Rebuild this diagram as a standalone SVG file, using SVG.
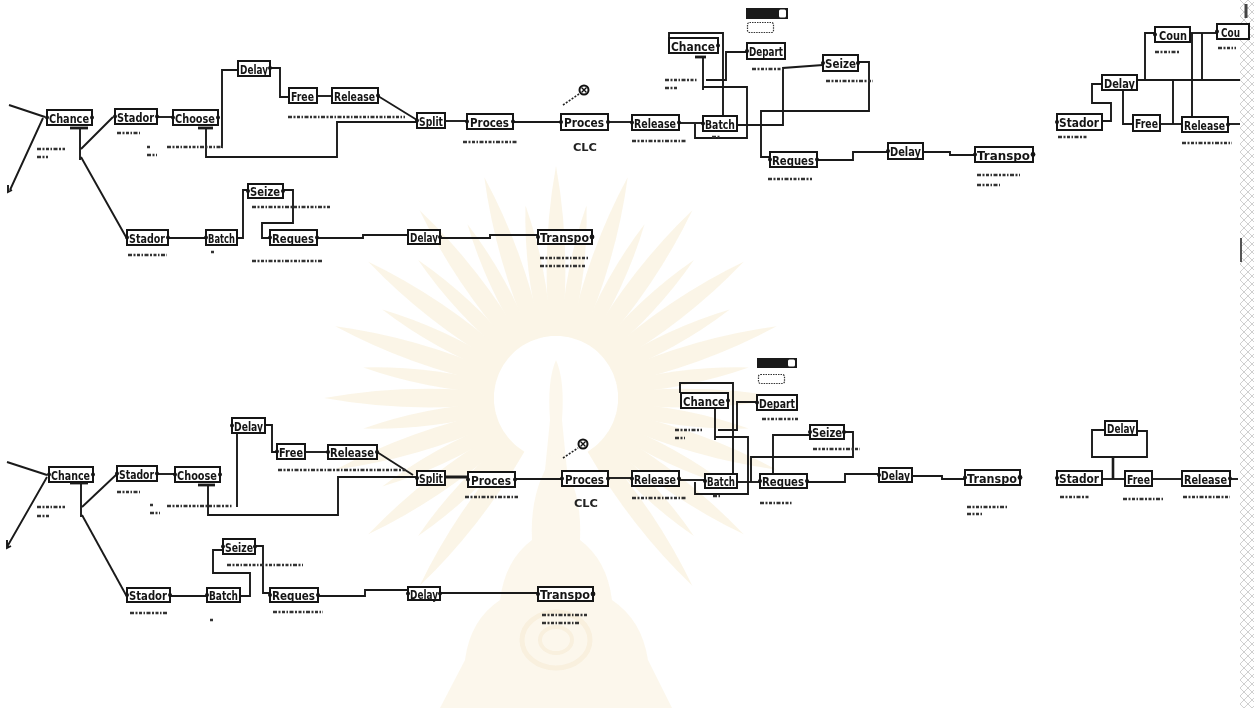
<svg xmlns="http://www.w3.org/2000/svg" xmlns:xlink="http://www.w3.org/1999/xlink" width="1254" height="708" viewBox="0 0 1254 708">
  <style>
    .blk { fill: #fff; stroke: #151515; stroke-width: 2; }
    .lb { font-family: "DejaVu Sans", "Liberation Sans", sans-serif; font-weight: bold; font-size: 13px; fill: #151515; }
    .pt { fill: #151515; }
    .wire { fill: none; stroke: #1a1a1a; stroke-width: 1.9; stroke-linejoin: miter; }
    .bar { stroke: #1a1a1a; stroke-width: 2.8; }
    .note { stroke: #333; stroke-width: 2.6; stroke-dasharray: 4 1.5 2 1.5 3 1.5 1.5 1.5; fill: none; }
    .clc { font-family: "DejaVu Sans", sans-serif; font-weight: bold; font-size: 10px; fill: #222; }
    .ray { fill: #f0dcaa; }
  </style>
  <defs>
    <path id="ray" d="M -6,-62 Q -15,-150 0,-232 Q 15,-150 6,-62 Z"/>
    <path id="rayS" d="M -5,-62 Q -12,-130 0,-195 Q 12,-130 5,-62 Z"/>
    <pattern id="edge" width="8" height="8" patternUnits="userSpaceOnUse">
      <path d="M0,0 L8,8 M8,0 L0,8" stroke="#c4c4c4" stroke-width="0.8"/>
    </pattern>
  </defs>

  <rect width="1254" height="708" fill="#fff"/>

  <!-- pale emblem in the background -->
  <g id="emblem" opacity="0.28">
    <g transform="translate(556,398)" class="ray">
      <use xlink:href="#ray" transform="rotate(0)"/><use xlink:href="#rayS" transform="rotate(9)"/>
      <use xlink:href="#ray" transform="rotate(18)"/><use xlink:href="#rayS" transform="rotate(27)"/>
      <use xlink:href="#ray" transform="rotate(36)"/><use xlink:href="#rayS" transform="rotate(45)"/>
      <use xlink:href="#ray" transform="rotate(54)"/><use xlink:href="#rayS" transform="rotate(63)"/>
      <use xlink:href="#ray" transform="rotate(72)"/><use xlink:href="#rayS" transform="rotate(81)"/>
      <use xlink:href="#ray" transform="rotate(90)"/><use xlink:href="#rayS" transform="rotate(99)"/>
      <use xlink:href="#ray" transform="rotate(108)"/><use xlink:href="#rayS" transform="rotate(117)"/>
      <use xlink:href="#ray" transform="rotate(126)"/><use xlink:href="#rayS" transform="rotate(135)"/>
      <use xlink:href="#ray" transform="rotate(144)"/>
      <use xlink:href="#ray" transform="rotate(216)"/>
      <use xlink:href="#rayS" transform="rotate(225)"/><use xlink:href="#ray" transform="rotate(234)"/>
      <use xlink:href="#rayS" transform="rotate(243)"/><use xlink:href="#ray" transform="rotate(252)"/>
      <use xlink:href="#rayS" transform="rotate(261)"/><use xlink:href="#ray" transform="rotate(270)"/>
      <use xlink:href="#rayS" transform="rotate(279)"/><use xlink:href="#ray" transform="rotate(288)"/>
      <use xlink:href="#rayS" transform="rotate(297)"/><use xlink:href="#ray" transform="rotate(306)"/>
      <use xlink:href="#rayS" transform="rotate(315)"/><use xlink:href="#ray" transform="rotate(324)"/>
      <use xlink:href="#rayS" transform="rotate(333)"/><use xlink:href="#ray" transform="rotate(342)"/>
      <use xlink:href="#rayS" transform="rotate(351)"/>
    </g>
    <circle cx="556" cy="398" r="58" fill="#fff"/>
    <path d="M556,360 Q547,380 550,420 L545,470 Q530,500 532,540 Q505,560 500,600 Q470,620 465,660 L440,708 L672,708 L648,660 Q642,620 612,600 Q607,560 580,540 Q582,500 567,470 L562,420 Q565,380 556,360 Z" fill="#f1dcaa" opacity="0.8"/>
    <ellipse cx="556" cy="640" rx="34" ry="28" fill="none" stroke="#e9c98a" stroke-width="5"/>
    <ellipse cx="556" cy="640" rx="16" ry="13" fill="none" stroke="#e9c98a" stroke-width="4"/>
  </g>

  <!-- scanner edge -->
  <rect x="1240" y="0" width="14" height="708" fill="url(#edge)"/>
  <line x1="1246" y1="4" x2="1246" y2="18" stroke="#444" stroke-width="3"/>
  <line x1="1241" y1="238" x2="1241" y2="262" stroke="#555" stroke-width="2"/>

  <!-- ===================== connectors ===================== -->
  <g id="connectors">
    <!-- upper model -->
    <path class="wire" d="M9,105 L45,117"/>
    <path class="wire" d="M10,190 L43,118 M8,185 L8,192 L12,190"/>
    <line class="bar" x1="70" y1="128" x2="88" y2="128"/>
    <path class="wire" d="M80,128 L80,160"/>
    <path class="wire" d="M81,149 L113,117"/>
    <path class="wire" d="M81,157 L126,237"/>
    <path class="wire" d="M157,117 L173,117"/>
    <line class="bar" x1="198" y1="128" x2="213" y2="128"/>
    <path class="wire" d="M206,128 L206,158 M206,157 L337,157 L337,122 L417,122"/>
    <path class="wire" d="M222,148 L222,70 L238,70"/>
    <path class="wire" d="M270,68 L280,68 L280,97 L289,97"/>
    <path class="wire" d="M317,96 L332,96"/>
    <path class="wire" d="M378,96 L417,120"/>
    <path class="wire" d="M445,121 L467,121"/>
    <path class="wire" d="M513,122 L561,122"/>
    <path class="wire" d="M608,122 L632,122"/>
    <path class="wire" d="M679,123 L703,123"/>
    <path class="wire" d="M695,124 L695,138 L747,138 L747,87 L703,87"/>
    <line class="bar" x1="695" y1="57" x2="706" y2="57"/>
    <path class="wire" d="M703,57 L703,90"/>
    <path class="wire" d="M669,45 L669,33 L723,33 L723,118"/>
    <path class="wire" d="M706,80 L726,80 L726,52 L747,52"/>
    <path class="wire" d="M737,125 L783,125 L783,68 L823,65"/>
    <path class="wire" d="M858,62 L869,62 L869,111 L761,111 L761,157 L770,157"/>
    <path class="wire" d="M817,160 L853,160 L853,152 L888,152"/>
    <path class="wire" d="M923,152 L950,152 L950,155 L975,155"/>
    <path class="wire" d="M168,238 L206,238"/>
    <path class="wire" d="M237,238 L243,238 L243,190 L248,190"/>
    <path class="wire" d="M283,190 L293,190 L293,223 L262,223 L262,238 L270,238"/>
    <path class="wire" d="M317,238 L363,238 L363,235 L408,235"/>
    <path class="wire" d="M440,238 L490,238 L490,235 L538,235"/>
    <path class="wire" d="M1102,121 L1111,121 L1111,103 L1092,103 L1092,84 L1102,84"/>
    <path class="wire" d="M1137,80 L1240,80"/>
    <path class="wire" d="M1145,80 L1145,33 L1155,33"/>
    <path class="wire" d="M1190,33 L1217,33"/>
    <path class="wire" d="M1123,90 L1123,124 L1133,124"/>
    <path class="wire" d="M1160,124 L1182,124"/>
    <path class="wire" d="M1228,124 L1240,124"/>
    <path class="wire" d="M1173,79 L1173,124 M1192,33 L1192,123 M1202,33 L1202,80"/>

    <!-- lower model -->
    <path class="wire" d="M7,462 L47,475"/>
    <path class="wire" d="M7,547 L47,477 M7,540 L7,548 L11,546"/>
    <line class="bar" x1="70" y1="483" x2="88" y2="483"/>
    <path class="wire" d="M81,483 L81,517"/>
    <path class="wire" d="M82,507 L117,474"/>
    <path class="wire" d="M82,515 L126,595"/>
    <path class="wire" d="M157,474 L175,474"/>
    <line class="bar" x1="198" y1="485" x2="215" y2="485"/>
    <path class="wire" d="M208,485 L208,515 L338,515 L338,477 L417,477"/>
    <path class="wire" d="M237,433 L237,507"/>
    <path class="wire" d="M265,425 L272,425 L272,452 L277,452"/>
    <path class="wire" d="M305,452 L328,452"/>
    <path class="wire" d="M377,452 L413,475"/>
    <path class="wire" d="M445,477 L468,477" style="stroke-width:3"/>
    <path class="wire" d="M515,479 L562,479"/>
    <path class="wire" d="M608,478 L632,478"/>
    <path class="wire" d="M679,480 L705,480"/>
    <path class="wire" d="M695,482 L695,494 L748,494 L748,437 L715,437"/>
    <line class="bar" x1="708" y1="405" x2="722" y2="405"/>
    <path class="wire" d="M715,405 L715,440"/>
    <path class="wire" d="M680,393 L680,383 L733,383 L733,474"/>
    <path class="wire" d="M718,430 L737,430 L737,402 L757,402"/>
    <path class="wire" d="M737,482 L760,482"/>
    <path class="wire" d="M751,482 L751,457 L853,457 L853,432 L844,432"/>
    <path class="wire" d="M773,482 L773,435 L810,435"/>
    <path class="wire" d="M807,482 L845,482 L845,474 L879,474"/>
    <path class="wire" d="M912,476 L942,476 L942,479 L965,479"/>
    <path class="wire" d="M170,596 L207,596"/>
    <path class="wire" d="M240,596 L250,596 L250,573 L213,573 L213,550 L223,550"/>
    <path class="wire" d="M255,546 L263,546 L263,593 L270,593"/>
    <path class="wire" d="M318,596 L365,596 L365,590 L408,590"/>
    <path class="wire" d="M440,593 L538,593"/>
    <path class="wire" d="M1105,430 L1092,430 L1092,457 L1147,457 L1147,431 L1137,431"/>
    <path class="wire" d="M1113,457 L1113,479" style="stroke-width:2.6"/>
    <path class="wire" d="M1102,479 L1125,479"/>
    <path class="wire" d="M1152,479 L1182,479"/>
    <path class="wire" d="M1230,479 L1238,479"/>
  </g>

  <!-- ===================== upper model blocks ===================== -->
  <g id="u-chance"><rect class="blk" x="47" y="110" width="45" height="15"/><text class="lb" x="49" y="122.5" textLength="40" lengthAdjust="spacingAndGlyphs">Chance</text><circle class="pt" cx="47" cy="117.5" r="2"/><circle class="pt" cx="92" cy="117.5" r="2"/></g>
  <g id="u-stador"><rect class="blk" x="115" y="109" width="42" height="15"/><text class="lb" x="117" y="121.5" textLength="37" lengthAdjust="spacingAndGlyphs">Stador</text><circle class="pt" cx="115" cy="116.5" r="2"/><circle class="pt" cx="157" cy="116.5" r="2"/></g>
  <g id="u-choose"><rect class="blk" x="173" y="110" width="45" height="15"/><text class="lb" x="175" y="122.5" textLength="40" lengthAdjust="spacingAndGlyphs">Choose</text><circle class="pt" cx="173" cy="117.5" r="2"/><circle class="pt" cx="218" cy="117.5" r="2"/></g>
  <g id="u-delay-a"><rect class="blk" x="238" y="61" width="32" height="15"/><text class="lb" x="240" y="73.5" textLength="28" lengthAdjust="spacingAndGlyphs">Delay</text><circle class="pt" cx="270" cy="68" r="2"/></g>
  <g id="u-free"><rect class="blk" x="289" y="88" width="28" height="15"/><text class="lb" x="291" y="100.5" textLength="23" lengthAdjust="spacingAndGlyphs">Free</text></g>
  <g id="u-release-a"><rect class="blk" x="332" y="88" width="46" height="15"/><text class="lb" x="334" y="100.5" textLength="41" lengthAdjust="spacingAndGlyphs">Release</text><circle class="pt" cx="378" cy="95.5" r="2"/></g>
  <g id="u-split"><rect class="blk" x="417" y="113" width="28" height="15"/><text class="lb" x="419" y="125.5" textLength="24" lengthAdjust="spacingAndGlyphs">Split</text><circle class="pt" cx="417" cy="120.5" r="2"/></g>
  <g id="u-proces-a"><rect class="blk" x="467" y="114" width="46" height="15"/><text class="lb" x="470" y="126.5" textLength="39" lengthAdjust="spacingAndGlyphs">Proces</text><circle class="pt" cx="467" cy="121.5" r="2"/><circle class="pt" cx="513" cy="121.5" r="2"/></g>
  <g id="u-proces-b"><rect class="blk" x="561" y="114" width="47" height="16"/><text class="lb" x="564" y="127" textLength="40" lengthAdjust="spacingAndGlyphs">Proces</text><circle class="pt" cx="561" cy="122" r="2"/><circle class="pt" cx="608" cy="122" r="2"/>
    <text class="clc" x="573" y="151" textLength="24" lengthAdjust="spacingAndGlyphs">CLC</text></g>
  <g id="u-probe"><line x1="563" y1="105" x2="579" y2="94" stroke="#222" stroke-width="1.6" stroke-dasharray="2 1.5"/><circle cx="584" cy="90" r="4.5" fill="#fff" stroke="#111" stroke-width="2"/><path d="M581.5,87.5 L586.5,92.5 M586.5,87.5 L581.5,92.5" stroke="#111" stroke-width="1.4"/></g>
  <g id="u-release-b"><rect class="blk" x="632" y="115" width="47" height="15"/><text class="lb" x="634" y="127.5" textLength="42" lengthAdjust="spacingAndGlyphs">Release</text><circle class="pt" cx="632" cy="122.5" r="2"/><circle class="pt" cx="679" cy="122.5" r="2"/></g>
  <g id="u-batch-b"><rect class="blk" x="703" y="116" width="34" height="15"/><text class="lb" x="705" y="128.5" textLength="30" lengthAdjust="spacingAndGlyphs">Batch</text><circle class="pt" cx="703" cy="123.5" r="2"/></g>
  <g id="u-chance-b"><rect class="blk" x="669" y="38" width="49" height="15"/><text class="lb" x="671" y="50.5" textLength="44" lengthAdjust="spacingAndGlyphs">Chance</text><circle class="pt" cx="718" cy="45.5" r="2"/></g>
  <g id="u-depart"><rect class="blk" x="747" y="43" width="38" height="16"/><text class="lb" x="749" y="56" textLength="34" lengthAdjust="spacingAndGlyphs">Depart</text><circle class="pt" cx="747" cy="51" r="2"/></g>
  <g id="u-seize-b"><rect class="blk" x="823" y="55" width="35" height="16"/><text class="lb" x="825" y="68" textLength="31" lengthAdjust="spacingAndGlyphs">Seize</text><circle class="pt" cx="823" cy="63" r="2"/><circle class="pt" cx="858" cy="63" r="2"/></g>
  <g id="u-request-b"><rect class="blk" x="770" y="152" width="47" height="15"/><text class="lb" x="772" y="164.5" textLength="42" lengthAdjust="spacingAndGlyphs">Reques</text><circle class="pt" cx="770" cy="159.5" r="2"/><circle class="pt" cx="817" cy="159.5" r="2"/></g>
  <g id="u-delay-b"><rect class="blk" x="888" y="143" width="35" height="16"/><text class="lb" x="890" y="156" textLength="31" lengthAdjust="spacingAndGlyphs">Delay</text><circle class="pt" cx="888" cy="151" r="2"/></g>
  <g id="u-transport-b"><rect class="blk" x="975" y="147" width="58" height="15"/><text class="lb" x="977" y="159.5" textLength="53" lengthAdjust="spacingAndGlyphs">Transpo</text><circle class="pt" cx="975" cy="154.5" r="2"/><circle class="pt" cx="1033" cy="154.5" r="2.4"/></g>
  <g id="u-monitor"><rect x="746" y="8" width="42" height="11" fill="#1a1a1a"/><rect x="779" y="9.5" width="7" height="8" rx="1.5" fill="#fff"/><rect x="747.5" y="22.5" width="26" height="10" rx="2" fill="none" stroke="#333" stroke-width="1.2" stroke-dasharray="1.5 1"/></g>
  <g id="u-stador-c"><rect class="blk" x="127" y="230" width="41" height="15"/><text class="lb" x="129" y="242.5" textLength="36" lengthAdjust="spacingAndGlyphs">Stador</text><circle class="pt" cx="127" cy="237.5" r="2"/><circle class="pt" cx="168" cy="237.5" r="2"/></g>
  <g id="u-batch-c"><rect class="blk" x="206" y="230" width="31" height="15"/><text class="lb" x="208" y="242.5" textLength="27" lengthAdjust="spacingAndGlyphs">Batch</text><circle class="pt" cx="206" cy="237.5" r="2"/></g>
  <g id="u-seize-c"><rect class="blk" x="248" y="184" width="35" height="14"/><text class="lb" x="250" y="196" textLength="30" lengthAdjust="spacingAndGlyphs">Seize</text><circle class="pt" cx="248" cy="191" r="2"/><circle class="pt" cx="283" cy="191" r="2"/></g>
  <g id="u-request-c"><rect class="blk" x="270" y="230" width="47" height="15"/><text class="lb" x="272" y="242.5" textLength="42" lengthAdjust="spacingAndGlyphs">Reques</text><circle class="pt" cx="270" cy="237.5" r="2"/><circle class="pt" cx="317" cy="237.5" r="2"/></g>
  <g id="u-delay-c"><rect class="blk" x="408" y="230" width="32" height="14"/><text class="lb" x="410" y="242" textLength="28" lengthAdjust="spacingAndGlyphs">Delay</text><circle class="pt" cx="440" cy="237" r="2"/></g>
  <g id="u-transport-c"><rect class="blk" x="538" y="230" width="54" height="14"/><text class="lb" x="540" y="242" textLength="49" lengthAdjust="spacingAndGlyphs">Transpo</text><circle class="pt" cx="538" cy="237" r="2"/><circle class="pt" cx="592" cy="237" r="2.4"/></g>
  <g id="u-stador-d"><rect class="blk" x="1057" y="114" width="45" height="16"/><text class="lb" x="1059" y="127" textLength="40" lengthAdjust="spacingAndGlyphs">Stador</text><circle class="pt" cx="1057" cy="122" r="2"/></g>
  <g id="u-delay-d"><rect class="blk" x="1102" y="75" width="35" height="15"/><text class="lb" x="1104" y="87.5" textLength="31" lengthAdjust="spacingAndGlyphs">Delay</text></g>
  <g id="u-count-a"><rect class="blk" x="1155" y="27" width="35" height="15"/><text class="lb" x="1159" y="39.5" textLength="28" lengthAdjust="spacingAndGlyphs">Coun</text><circle class="pt" cx="1155" cy="34.5" r="2"/></g>
  <g id="u-count-b"><rect class="blk" x="1217" y="24" width="32" height="15"/><text class="lb" x="1221" y="36.5" textLength="19" lengthAdjust="spacingAndGlyphs">Cou</text><circle class="pt" cx="1217" cy="31.5" r="2"/></g>
  <g id="u-free-d"><rect class="blk" x="1133" y="115" width="27" height="16"/><text class="lb" x="1135" y="128" textLength="23" lengthAdjust="spacingAndGlyphs">Free</text></g>
  <g id="u-release-d"><rect class="blk" x="1182" y="117" width="46" height="15"/><text class="lb" x="1184" y="129.5" textLength="41" lengthAdjust="spacingAndGlyphs">Release</text><circle class="pt" cx="1228" cy="124.5" r="2"/></g>

  <!-- ===================== lower model blocks ===================== -->
  <g id="l-chance"><rect class="blk" x="49" y="467" width="44" height="15"/><text class="lb" x="51" y="479.5" textLength="39" lengthAdjust="spacingAndGlyphs">Chance</text><circle class="pt" cx="49" cy="474.5" r="2"/><circle class="pt" cx="93" cy="474.5" r="2"/></g>
  <g id="l-stador"><rect class="blk" x="117" y="466" width="40" height="15"/><text class="lb" x="119" y="478.5" textLength="35" lengthAdjust="spacingAndGlyphs">Stador</text><circle class="pt" cx="117" cy="473.5" r="2"/><circle class="pt" cx="157" cy="473.5" r="2"/></g>
  <g id="l-choose"><rect class="blk" x="175" y="467" width="45" height="15"/><text class="lb" x="177" y="479.5" textLength="40" lengthAdjust="spacingAndGlyphs">Choose</text><circle class="pt" cx="175" cy="474.5" r="2"/><circle class="pt" cx="220" cy="474.5" r="2"/></g>
  <g id="l-delay-a"><rect class="blk" x="232" y="418" width="33" height="15"/><text class="lb" x="234" y="430.5" textLength="29" lengthAdjust="spacingAndGlyphs">Delay</text><circle class="pt" cx="232" cy="425.5" r="2"/></g>
  <g id="l-free"><rect class="blk" x="277" y="444" width="28" height="15"/><text class="lb" x="279" y="456.5" textLength="24" lengthAdjust="spacingAndGlyphs">Free</text><circle class="pt" cx="277" cy="451.5" r="2"/></g>
  <g id="l-release-a"><rect class="blk" x="328" y="445" width="49" height="14"/><text class="lb" x="330" y="457" textLength="44" lengthAdjust="spacingAndGlyphs">Release</text><circle class="pt" cx="328" cy="452" r="2"/><circle class="pt" cx="377" cy="452" r="2"/></g>
  <g id="l-split"><rect class="blk" x="417" y="471" width="28" height="14"/><text class="lb" x="419" y="483" textLength="24" lengthAdjust="spacingAndGlyphs">Split</text><circle class="pt" cx="417" cy="478" r="2"/></g>
  <g id="l-proces-a"><rect class="blk" x="468" y="472" width="47" height="15"/><text class="lb" x="471" y="484.5" textLength="40" lengthAdjust="spacingAndGlyphs">Proces</text><circle class="pt" cx="468" cy="479.5" r="2"/><circle class="pt" cx="515" cy="479.5" r="2"/></g>
  <g id="l-proces-b"><rect class="blk" x="562" y="471" width="46" height="15"/><text class="lb" x="565" y="483.5" textLength="39" lengthAdjust="spacingAndGlyphs">Proces</text><circle class="pt" cx="562" cy="478.5" r="2"/><circle class="pt" cx="608" cy="478.5" r="2"/>
    <text class="clc" x="574" y="507" textLength="24" lengthAdjust="spacingAndGlyphs">CLC</text></g>
  <g id="l-probe"><line x1="563" y1="458" x2="578" y2="448" stroke="#222" stroke-width="1.6" stroke-dasharray="2 1.5"/><circle cx="583" cy="444" r="4.5" fill="#fff" stroke="#111" stroke-width="2"/><path d="M580.5,441.5 L585.5,446.5 M585.5,441.5 L580.5,446.5" stroke="#111" stroke-width="1.4"/></g>
  <g id="l-release-b"><rect class="blk" x="632" y="471" width="47" height="15"/><text class="lb" x="634" y="483.5" textLength="42" lengthAdjust="spacingAndGlyphs">Release</text><circle class="pt" cx="632" cy="478.5" r="2"/><circle class="pt" cx="679" cy="478.5" r="2"/></g>
  <g id="l-batch-b"><rect class="blk" x="705" y="474" width="32" height="14"/><text class="lb" x="707" y="486" textLength="28" lengthAdjust="spacingAndGlyphs">Batch</text><circle class="pt" cx="705" cy="481" r="2"/></g>
  <g id="l-chance-b"><rect class="blk" x="681" y="393" width="47" height="15"/><text class="lb" x="683" y="405.5" textLength="42" lengthAdjust="spacingAndGlyphs">Chance</text><circle class="pt" cx="728" cy="400.5" r="2"/></g>
  <g id="l-depart"><rect class="blk" x="757" y="395" width="40" height="15"/><text class="lb" x="759" y="407.5" textLength="36" lengthAdjust="spacingAndGlyphs">Depart</text><circle class="pt" cx="757" cy="402.5" r="2"/></g>
  <g id="l-seize-b"><rect class="blk" x="810" y="425" width="34" height="14"/><text class="lb" x="812" y="437" textLength="30" lengthAdjust="spacingAndGlyphs">Seize</text><circle class="pt" cx="810" cy="432" r="2"/><circle class="pt" cx="844" cy="432" r="2"/></g>
  <g id="l-request-b"><rect class="blk" x="760" y="474" width="47" height="14"/><text class="lb" x="762" y="486" textLength="42" lengthAdjust="spacingAndGlyphs">Reques</text><circle class="pt" cx="760" cy="481" r="2"/><circle class="pt" cx="807" cy="481" r="2"/></g>
  <g id="l-delay-b"><rect class="blk" x="879" y="468" width="33" height="14"/><text class="lb" x="881" y="480" textLength="29" lengthAdjust="spacingAndGlyphs">Delay</text><circle class="pt" cx="879" cy="475" r="2"/></g>
  <g id="l-transport-b"><rect class="blk" x="965" y="470" width="55" height="15"/><text class="lb" x="967" y="482.5" textLength="50" lengthAdjust="spacingAndGlyphs">Transpo</text><circle class="pt" cx="965" cy="477.5" r="2"/><circle class="pt" cx="1020" cy="477.5" r="2.4"/></g>
  <g id="l-monitor"><rect x="757" y="358" width="40" height="10" fill="#1a1a1a"/><rect x="788" y="359.5" width="7" height="7" rx="1.5" fill="#fff"/><rect x="758.5" y="374.5" width="26" height="9" rx="2" fill="none" stroke="#333" stroke-width="1.2" stroke-dasharray="1.5 1"/></g>
  <g id="l-stador-c"><rect class="blk" x="127" y="588" width="43" height="14"/><text class="lb" x="129" y="600" textLength="38" lengthAdjust="spacingAndGlyphs">Stador</text><circle class="pt" cx="127" cy="595" r="2"/><circle class="pt" cx="170" cy="595" r="2"/></g>
  <g id="l-batch-c"><rect class="blk" x="207" y="588" width="33" height="14"/><text class="lb" x="209" y="600" textLength="29" lengthAdjust="spacingAndGlyphs">Batch</text><circle class="pt" cx="207" cy="595" r="2"/></g>
  <g id="l-seize-c"><rect class="blk" x="223" y="539" width="32" height="15"/><text class="lb" x="225" y="551.5" textLength="28" lengthAdjust="spacingAndGlyphs">Seize</text><circle class="pt" cx="223" cy="546.5" r="2"/><circle class="pt" cx="255" cy="546.5" r="2"/></g>
  <g id="l-request-c"><rect class="blk" x="270" y="588" width="48" height="14"/><text class="lb" x="272" y="600" textLength="43" lengthAdjust="spacingAndGlyphs">Reques</text><circle class="pt" cx="270" cy="595" r="2"/><circle class="pt" cx="318" cy="595" r="2"/></g>
  <g id="l-delay-c"><rect class="blk" x="408" y="587" width="32" height="13"/><text class="lb" x="410" y="598.5" textLength="28" lengthAdjust="spacingAndGlyphs">Delay</text><circle class="pt" cx="408" cy="593.5" r="2"/><circle class="pt" cx="440" cy="593.5" r="2"/></g>
  <g id="l-transport-c"><rect class="blk" x="538" y="587" width="55" height="14"/><text class="lb" x="540" y="599" textLength="50" lengthAdjust="spacingAndGlyphs">Transpo</text><circle class="pt" cx="538" cy="594" r="2"/><circle class="pt" cx="593" cy="594" r="2.4"/></g>
  <g id="l-delay-d"><rect class="blk" x="1105" y="421" width="32" height="14"/><text class="lb" x="1107" y="433" textLength="28" lengthAdjust="spacingAndGlyphs">Delay</text></g>
  <g id="l-stador-d"><rect class="blk" x="1057" y="471" width="45" height="14"/><text class="lb" x="1059" y="483" textLength="40" lengthAdjust="spacingAndGlyphs">Stador</text><circle class="pt" cx="1057" cy="478" r="2"/></g>
  <g id="l-free-d"><rect class="blk" x="1125" y="471" width="27" height="15"/><text class="lb" x="1127" y="483.5" textLength="23" lengthAdjust="spacingAndGlyphs">Free</text></g>
  <g id="l-release-d"><rect class="blk" x="1182" y="471" width="48" height="15"/><text class="lb" x="1184" y="483.5" textLength="43" lengthAdjust="spacingAndGlyphs">Release</text><circle class="pt" cx="1230" cy="478.5" r="2"/></g>

  <!-- small parameter readouts under the blocks -->
  <g id="readouts">
    <path class="note" d="M37,149 H65 M37,157 H48 M117,133 H140 M147,147 H150 M147,155 H157 M167,147 H223 M288,117 H405 M463,142 H517 M632,141 H687 M712,137 H720 M665,80 H698 M665,88 H677 M752,69 H783 M826,81 H873 M768,179 H812 M977,175 H1020 M977,185 H1000 M128,255 H167 M211,252 H214 M252,207 H330 M252,261 H323 M540,258 H588 M540,266 H585 M1058,137 H1088 M1155,52 H1180 M1218,48 H1236 M1182,143 H1232"/>
    <path class="note" d="M37,507 H65 M37,516 H50 M117,492 H140 M150,505 H153 M150,513 H160 M167,506 H233 M278,470 H407 M465,497 H518 M632,498 H687 M713,496 H720 M675,430 H702 M675,438 H685 M762,419 H798 M813,449 H860 M760,503 H793 M967,507 H1007 M967,514 H983 M130,613 H168 M210,620 H213 M227,565 H303 M273,612 H323 M542,615 H588 M542,623 H580 M1060,497 H1090 M1123,499 H1163 M1183,497 H1230"/>
  </g>
</svg>
